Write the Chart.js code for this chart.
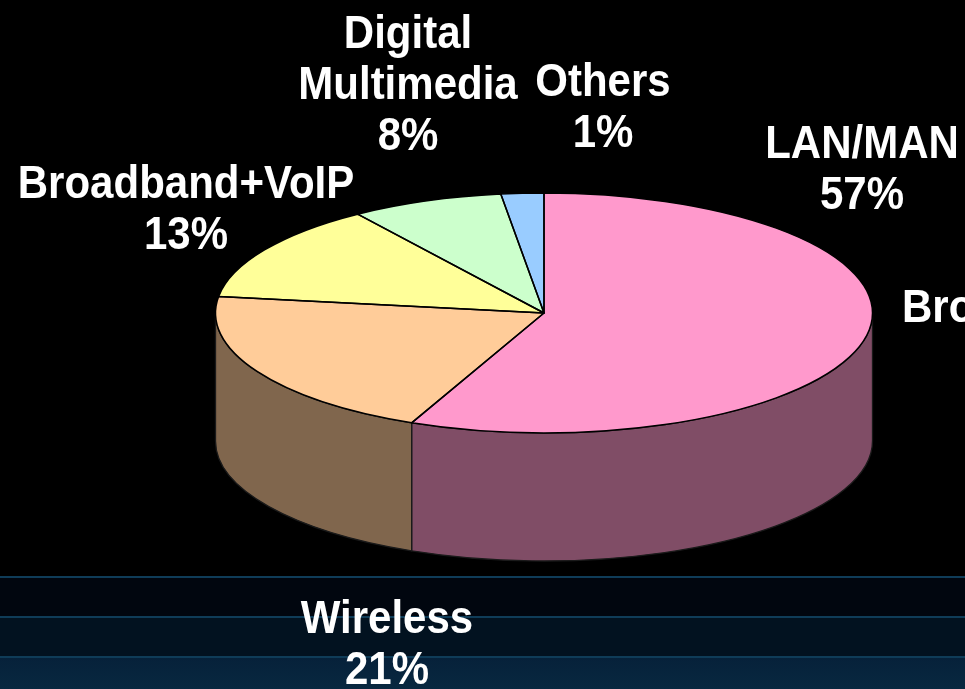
<!DOCTYPE html>
<html>
<head>
<meta charset="utf-8">
<script src="https://cdn.jsdelivr.net/npm/chart.js@4"></script>
<style>
  html, body { margin: 0; padding: 0; background: #000; }
  canvas { display: block; }
</style>
</head>
<body>
<canvas id="shareChart" width="965" height="689"></canvas>
<script>
// Market share by segment (slice sizes, labels as printed)
const categories = ['LAN/MAN', 'Wireless', 'Broadband+VoIP', 'Digital Multimedia', 'Others'];
const shares = [56.6, 20.6, 13.2, 7.5, 2.1];
const percentLabels = ['57%', '21%', '13%', '8%', '1%'];

const topColors = ['#FF99CC', '#FFCC99', '#FFFF99', '#CCFFCC', '#99CCFF'];
const sideColors = ['#804D66', '#80664D', '#80804D', '#668066', '#4D6680'];

// ellipse of the top face and the depth of the wall
const EX = 544, EY = 313, RX = 328.5, RY = 120, DEPTH = 128;

// where each label block sits (centre x, centre y of first line)
const labelPos = [[862, 145], [387, 620], [186, 185], [408, 35], [603, 83]];

const background = {
  id: 'background',
  beforeDraw(chart) {
    const ctx = chart.ctx;
    ctx.save();
    ctx.fillStyle = '#000';
    ctx.fillRect(0, 0, chart.width, chart.height);
    // three bands, a bit lighter towards the bottom
    ctx.fillStyle = '#01060f';
    ctx.fillRect(0, 577, chart.width, 40);
    ctx.fillStyle = '#021220';
    ctx.fillRect(0, 617, chart.width, 40);
    const g = ctx.createLinearGradient(0, 657, 0, 689);
    g.addColorStop(0, '#06213a');
    g.addColorStop(1, '#082840');
    ctx.fillStyle = g;
    ctx.fillRect(0, 657, chart.width, 32);
    ctx.fillStyle = '#0f3c58';
    [576, 616, 656].forEach(y => ctx.fillRect(0, y, chart.width, 2));
    ctx.restore();
  }
};

const pie3d = {
  id: 'pie3d',
  beforeDatasetsDraw(chart) {
    const ctx = chart.ctx;
    const arcs = chart.getDatasetMeta(0).data;
    // side walls, only the front half is visible
    ctx.save();
    ctx.lineWidth = 1.3;
    ctx.strokeStyle = '#1a1a1a';
    arcs.forEach((arc, i) => {
      const a1 = Math.max(arc.startAngle, 0);
      const a2 = Math.min(arc.endAngle, Math.PI);
      if (a2 <= a1) return;
      ctx.beginPath();
      ctx.ellipse(EX, EY, RX, RY, 0, a1, a2);
      ctx.ellipse(EX, EY + DEPTH, RX, RY, 0, a2, a1, true);
      ctx.closePath();
      ctx.fillStyle = sideColors[i];
      ctx.fill();
      ctx.stroke();
    });
    ctx.restore();

    // squash the flat pie into the top ellipse
    const a = arcs[0];
    ctx.save();
    ctx.translate(EX, EY);
    ctx.scale(RX / a.outerRadius, RY / a.outerRadius);
    ctx.translate(-a.x, -a.y);
  },
  afterDatasetsDraw(chart) {
    const ctx = chart.ctx;
    ctx.restore();
    const arcs = chart.getDatasetMeta(0).data;
    ctx.save();
    ctx.lineWidth = 1.5;
    ctx.strokeStyle = '#000';
    ctx.lineJoin = 'round';
    arcs.forEach(arc => {
      ctx.beginPath();
      ctx.moveTo(EX, EY);
      ctx.ellipse(EX, EY, RX, RY, 0, arc.startAngle, arc.endAngle);
      ctx.closePath();
      ctx.stroke();
    });
    ctx.restore();
  },
  afterDraw(chart) {
    const ctx = chart.ctx;
    ctx.save();
    ctx.fillStyle = '#fff';
    ctx.font = 'bold 42px "Liberation Sans", Arial, sans-serif';
    ctx.textAlign = 'center';
    ctx.textBaseline = 'middle';
    const drawLine = (txt, x, y) => {
      ctx.save();
      ctx.translate(x, y);
      ctx.scale(1, 1.08);
      ctx.fillText(txt, 0, 0);
      ctx.restore();
    };
    categories.forEach((c, i) => {
      const lines = c === 'Digital Multimedia' ? c.split(' ') : [c];
      lines.push(percentLabels[i]);
      const [x, y] = labelPos[i];
      lines.forEach((t, k) => drawLine(t, x, y + k * 51));
    });
    // label running off the right edge
    ctx.textAlign = 'left';
    drawLine('Bro', 902, 309);
    ctx.restore();
  }
};

window.onload = function() {
  const ctx = document.getElementById('shareChart').getContext('2d');
  window.shareChart = new Chart(ctx, {
    type: 'pie',
    data: {
      labels: categories,
      datasets: [{
        data: shares,
        backgroundColor: topColors,
        borderWidth: 0
      }]
    },
    options: {
      responsive: false,
      animation: false,
      devicePixelRatio: 1,
      plugins: {
        legend: { display: false },
        tooltip: { enabled: false }
      }
    },
    plugins: [background, pie3d]
  });
};
</script>
</body>
</html>
